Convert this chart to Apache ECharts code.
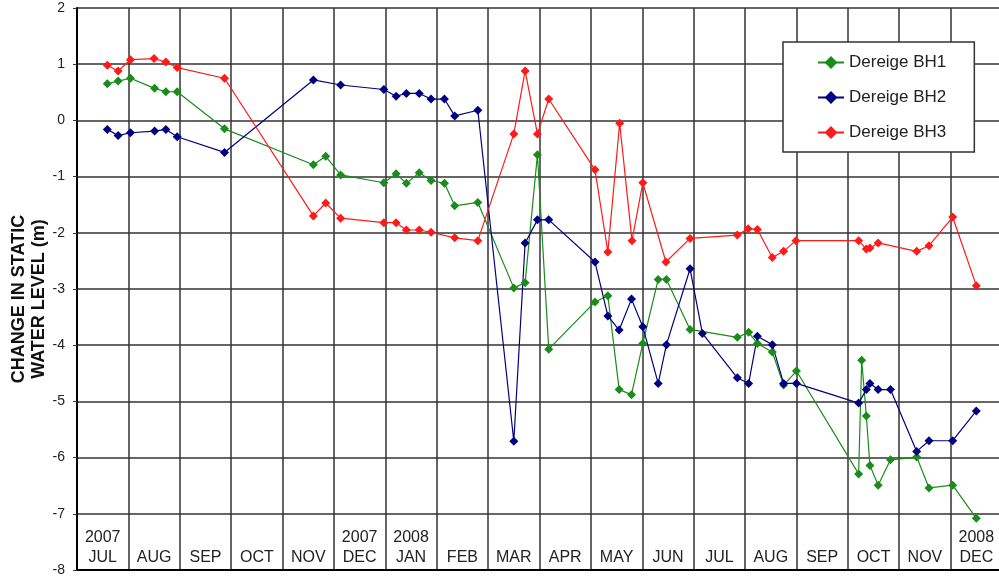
<!DOCTYPE html>
<html>
<head>
<meta charset="utf-8">
<script src="https://cdn.jsdelivr.net/npm/echarts@6/dist/echarts.min.js"></script>
<style>
  html, body { margin: 0; padding: 0; background: #fff; }
  #chart { width: 999px; height: 580px; }
</style>
</head>
<body>
<div id="chart"></div>
<script>
// Month columns along the bottom (Jul 2007 .. Dec 2008)
const monthLabels = ['2007\nJUL', 'AUG', 'SEP', 'OCT', 'NOV', '2007\nDEC', '2008\nJAN', 'FEB', 'MAR',
  'APR', 'MAY', 'JUN', 'JUL', 'AUG', 'SEP', 'OCT', 'NOV', '2008\nDEC'];

// Measurement times in months since 1 Jul 2007, and change in static water level (m)
const bh1Months = [0.59, 0.80, 1.04, 1.51, 1.73, 1.95, 2.87, 4.60, 4.84, 5.13, 5.97, 6.21, 6.41, 6.66, 6.89,
  7.15, 7.35, 7.80, 8.50, 8.72, 8.96, 9.18, 10.08, 10.33, 10.55, 10.79, 11.01, 11.31, 11.47, 11.93, 12.85,
  13.07, 13.24, 13.53, 13.75, 14.00, 15.21, 15.27, 15.36, 15.43, 15.59, 15.83, 16.34, 16.58, 17.04, 17.50];
const bh1Levels = [0.65, 0.70, 0.75, 0.57, 0.51, 0.51, -0.15, -0.79, -0.64, -0.97, -1.11, -0.95, -1.12, -0.93, -1.07,
  -1.12, -1.52, -1.46, -2.98, -2.89, -0.61, -4.07, -3.23, -3.12, -4.79, -4.88, -3.97, -2.83, -2.83, -3.72, -3.86,
  -3.77, -3.97, -4.12, -4.71, -4.46, -6.29, -4.27, -5.26, -6.14, -6.49, -6.04, -5.99, -6.54, -6.49, -7.08];

const bh2Months = [0.59, 0.80, 1.04, 1.51, 1.73, 1.95, 2.87, 4.60, 5.13, 5.97, 6.21, 6.41, 6.66, 6.89, 7.15,
  7.35, 7.80, 8.50, 8.72, 8.96, 9.18, 10.08, 10.33, 10.55, 10.79, 11.01, 11.31, 11.47, 11.93, 12.17, 12.85,
  13.07, 13.24, 13.53, 13.75, 14.00, 15.21, 15.36, 15.43, 15.59, 15.83, 16.34, 16.58, 17.04, 17.50];
const bh2Levels = [-0.16, -0.27, -0.22, -0.19, -0.16, -0.29, -0.57, 0.72, 0.63, 0.55, 0.43, 0.48, 0.48, 0.38, 0.38,
  0.08, 0.18, -5.71, -2.18, -1.77, -1.77, -2.52, -3.48, -3.73, -3.18, -3.67, -4.68, -3.99, -2.64, -3.79, -4.58,
  -4.68, -3.84, -3.99, -4.68, -4.68, -5.03, -4.79, -4.68, -4.79, -4.79, -5.89, -5.70, -5.70, -5.17];

const bh3Months = [0.59, 0.80, 1.04, 1.50, 1.73, 1.95, 2.87, 4.60, 4.84, 5.13, 5.97, 6.21, 6.41, 6.66, 6.89,
  7.35, 7.80, 8.50, 8.72, 8.96, 9.18, 10.08, 10.33, 10.56, 10.80, 11.01, 11.46, 11.93, 12.85, 13.06, 13.24,
  13.53, 13.75, 13.99, 15.21, 15.36, 15.43, 15.59, 16.34, 16.58, 17.04, 17.50];
const bh3Levels = [0.98, 0.88, 1.08, 1.10, 1.04, 0.94, 0.75, -1.70, -1.47, -1.74, -1.82, -1.82, -1.95, -1.95, -1.99,
  -2.09, -2.14, -0.24, 0.88, -0.24, 0.38, -0.88, -2.34, -0.05, -2.14, -1.11, -2.52, -2.10, -2.04, -1.93, -1.94,
  -2.44, -2.33, -2.14, -2.14, -2.29, -2.27, -2.18, -2.33, -2.23, -1.72, -2.94];

const seriesNames = ['Dereige BH1', 'Dereige BH2', 'Dereige BH3'];
const seriesColors = ['#1a8c1a', '#000080', '#ff1a1a'];

function pairs(xs, ys) { return xs.map((x, i) => [x, ys[i]]); }

const chart = echarts.init(document.getElementById('chart'), null, { renderer: 'canvas' });
const font = '"Liberation Sans", Arial, sans-serif';

function lineSeries(idx, data) {
  return {
    name: seriesNames[idx],
    type: 'line',
    xAxisIndex: 0,
    data: data,
    symbol: 'diamond',
    symbolSize: 9,
    color: seriesColors[idx],
    lineStyle: { width: 1.2, color: seriesColors[idx] },
    itemStyle: { color: seriesColors[idx] },
    animation: false,
    z: 3
  };
}

chart.setOption({
  backgroundColor: '#ffffff',
  animation: false,
  grid: { left: 77, right: -3, top: 8, bottom: 10, containLabel: false, outerBoundsMode: 'none' },
  legend: {
    left: 783, top: 42,
    orient: 'vertical',
    padding: [12, 28, 11, 34],
    itemGap: 18,
    itemWidth: 26,
    itemHeight: 16,
    backgroundColor: '#ffffff',
    borderColor: '#333333',
    borderWidth: 1.5,
    textStyle: { fontFamily: font, fontSize: 17, color: '#222' },
    data: seriesNames
  },
  xAxis: [
    {
      type: 'value', min: 0, max: 18, interval: 1,
      axisLine: { show: false }, axisTick: { show: false }, axisLabel: { show: false },
      splitLine: { show: true, lineStyle: { color: '#333333', width: 1.5 } }
    },
    {
      type: 'category', position: 'bottom', data: monthLabels, boundaryGap: true,
      axisLine: { show: true, lineStyle: { color: '#000', width: 2 } },
      axisTick: { show: false },
      axisLabel: {
        inside: true, margin: 2, interval: 0,
        fontFamily: font, fontSize: 16, color: '#222', lineHeight: 20
      },
      splitLine: { show: false }
    }
  ],
  yAxis: {
    type: 'value', min: -8, max: 2, interval: 1,
    name: 'CHANGE IN STATIC\nWATER LEVEL (m)',
    nameLocation: 'middle', nameGap: 28, nameRotate: 90,
    nameMoveOverlap: false,
    nameTextStyle: {
      fontFamily: font, fontSize: 18, fontWeight: 'bold', color: '#111', lineHeight: 20,
      padding: [0, 20, 0, 0]
    },
    axisLine: { show: true, lineStyle: { color: '#000', width: 2 } },
    axisTick: { show: true, length: 4, lineStyle: { color: '#333' } },
    axisLabel: { fontFamily: font, fontSize: 14, color: '#222', margin: 12 },
    splitLine: { show: true, lineStyle: { color: '#333333', width: 1.5 } }
  },
  series: [
    lineSeries(0, pairs(bh1Months, bh1Levels)),
    lineSeries(1, pairs(bh2Months, bh2Levels)),
    lineSeries(2, pairs(bh3Months, bh3Levels))
  ]
});
</script>
</body>
</html>
